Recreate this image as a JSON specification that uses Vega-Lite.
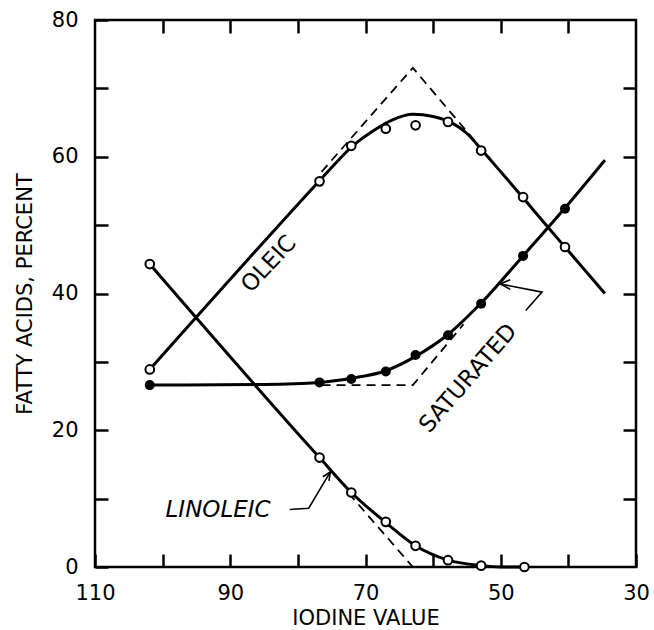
{
  "$schema": "https://vega.github.io/schema/vega-lite/v6.json",
  "width": 541,
  "height": 547,
  "autosize": {"type": "none"},
  "padding": {"left": 95, "top": 20, "right": 18, "bottom": 63},
  "config": {
    "view": {"stroke": "black", "strokeWidth": 2.5},
    "font": "DejaVu Sans",
    "axis": {
      "domain": false, "grid": false,
      "tickColor": "black", "tickWidth": 2.5, "tickSize": -13,
      "labelColor": "black", "labelFont": "DejaVu Sans", "labelFontSize": 21,
      "labelOverlap": false, "labelFlush": false,
      "titleFont": "DejaVu Sans", "titleFontSize": 21, "titleFontWeight": "normal", "titleColor": "black"
    }
  },
  "datasets": {
    "pts": [
      {"series": "Oleic", "kind": "open", "iv": 101.9, "pct": 28.9},
      {"series": "Oleic", "kind": "open", "iv": 76.8, "pct": 56.4},
      {"series": "Oleic", "kind": "open", "iv": 72.1, "pct": 61.6},
      {"series": "Oleic", "kind": "open", "iv": 67.0, "pct": 64.1},
      {"series": "Oleic", "kind": "open", "iv": 62.6, "pct": 64.6},
      {"series": "Oleic", "kind": "open", "iv": 57.8, "pct": 65.1},
      {"series": "Oleic", "kind": "open", "iv": 52.9, "pct": 60.9},
      {"series": "Oleic", "kind": "open", "iv": 46.7, "pct": 54.1},
      {"series": "Oleic", "kind": "open", "iv": 40.5, "pct": 46.8},
      {"series": "Saturated", "kind": "filled", "iv": 101.9, "pct": 26.6},
      {"series": "Saturated", "kind": "filled", "iv": 76.8, "pct": 27.0},
      {"series": "Saturated", "kind": "filled", "iv": 72.1, "pct": 27.5},
      {"series": "Saturated", "kind": "filled", "iv": 67.0, "pct": 28.6},
      {"series": "Saturated", "kind": "filled", "iv": 62.6, "pct": 31.0},
      {"series": "Saturated", "kind": "filled", "iv": 57.8, "pct": 33.9},
      {"series": "Saturated", "kind": "filled", "iv": 52.9, "pct": 38.5},
      {"series": "Saturated", "kind": "filled", "iv": 46.7, "pct": 45.5},
      {"series": "Saturated", "kind": "filled", "iv": 40.5, "pct": 52.4},
      {"series": "Linoleic", "kind": "open", "iv": 101.9, "pct": 44.3},
      {"series": "Linoleic", "kind": "open", "iv": 76.8, "pct": 16.0},
      {"series": "Linoleic", "kind": "open", "iv": 72.1, "pct": 10.9},
      {"series": "Linoleic", "kind": "open", "iv": 67.0, "pct": 6.6},
      {"series": "Linoleic", "kind": "open", "iv": 62.6, "pct": 3.1},
      {"series": "Linoleic", "kind": "open", "iv": 57.8, "pct": 1.0},
      {"series": "Linoleic", "kind": "open", "iv": 52.9, "pct": 0.2},
      {"series": "Linoleic", "kind": "open", "iv": 46.5, "pct": 0.0}
    ],
    "curves": [
      {"series": "Oleic", "iv": 101.9, "pct": 28.9},
      {"series": "Oleic", "iv": 76.8, "pct": 56.5},
      {"series": "Oleic", "iv": 74.0, "pct": 59.5},
      {"series": "Oleic", "iv": 72.0, "pct": 61.5},
      {"series": "Oleic", "iv": 69.0, "pct": 63.7},
      {"series": "Oleic", "iv": 66.0, "pct": 65.4},
      {"series": "Oleic", "iv": 63.0, "pct": 66.2},
      {"series": "Oleic", "iv": 60.0, "pct": 65.9},
      {"series": "Oleic", "iv": 57.8, "pct": 65.2},
      {"series": "Oleic", "iv": 55.0, "pct": 63.4},
      {"series": "Oleic", "iv": 52.9, "pct": 61.1},
      {"series": "Oleic", "iv": 50.0, "pct": 57.8},
      {"series": "Oleic", "iv": 46.7, "pct": 54.0},
      {"series": "Oleic", "iv": 43.2, "pct": 49.9},
      {"series": "Oleic", "iv": 40.5, "pct": 46.8},
      {"series": "Oleic", "iv": 34.6, "pct": 40.0},
      {"series": "Saturated", "iv": 101.9, "pct": 26.6},
      {"series": "Saturated", "iv": 85.0, "pct": 26.7},
      {"series": "Saturated", "iv": 76.8, "pct": 27.0},
      {"series": "Saturated", "iv": 72.1, "pct": 27.6},
      {"series": "Saturated", "iv": 67.0, "pct": 28.7},
      {"series": "Saturated", "iv": 62.6, "pct": 30.8},
      {"series": "Saturated", "iv": 57.8, "pct": 34.0},
      {"series": "Saturated", "iv": 52.9, "pct": 38.6},
      {"series": "Saturated", "iv": 46.7, "pct": 45.5},
      {"series": "Saturated", "iv": 40.5, "pct": 52.5},
      {"series": "Saturated", "iv": 34.6, "pct": 59.5},
      {"series": "Linoleic", "iv": 101.9, "pct": 44.3},
      {"series": "Linoleic", "iv": 76.8, "pct": 16.0},
      {"series": "Linoleic", "iv": 72.1, "pct": 10.9},
      {"series": "Linoleic", "iv": 67.0, "pct": 6.5},
      {"series": "Linoleic", "iv": 62.6, "pct": 3.1},
      {"series": "Linoleic", "iv": 57.8, "pct": 1.0},
      {"series": "Linoleic", "iv": 52.9, "pct": 0.2},
      {"series": "Linoleic", "iv": 50.0, "pct": 0.0},
      {"series": "Linoleic", "iv": 46.5, "pct": 0.0}
    ],
    "dashed": [
      {"series": "Oleic", "iv": 76.5, "pct": 57.8},
      {"series": "Oleic", "iv": 63.0, "pct": 73.0},
      {"series": "Oleic", "iv": 51.5, "pct": 59.6},
      {"series": "Saturated", "iv": 76.5, "pct": 26.6},
      {"series": "Saturated", "iv": 63.0, "pct": 26.6},
      {"series": "Saturated", "iv": 55.5, "pct": 35.5},
      {"series": "Linoleic", "iv": 72.5, "pct": 10.8},
      {"series": "Linoleic", "iv": 63.0, "pct": 0.0}
    ],
    "arrows": [
      {"seg": "shaftS", "ord": 1, "iv": 46.3, "pct": 37.5},
      {"seg": "shaftS", "ord": 2, "iv": 43.9, "pct": 40.2},
      {"seg": "shaftS", "ord": 3, "iv": 50.1, "pct": 41.4},
      {"seg": "headS", "ord": 1, "iv": 48.6, "pct": 42.0},
      {"seg": "headS", "ord": 2, "iv": 50.1, "pct": 41.4},
      {"seg": "headS", "ord": 3, "iv": 48.6, "pct": 40.6},
      {"seg": "shaftL", "ord": 1, "iv": 81.2, "pct": 8.4},
      {"seg": "shaftL", "ord": 2, "iv": 78.4, "pct": 8.6},
      {"seg": "shaftL", "ord": 3, "iv": 75.2, "pct": 13.9},
      {"seg": "headL", "ord": 1, "iv": 76.3, "pct": 13.2},
      {"seg": "headL", "ord": 2, "iv": 75.2, "pct": 13.9},
      {"seg": "headL", "ord": 3, "iv": 75.4, "pct": 12.6}
    ],
    "labels": [
      {"label": "OLEIC", "iv": 84.3, "pct": 44.3},
      {"label": "SATURATED", "iv": 54.8, "pct": 27.6},
      {"label": "LINOLEIC", "iv": 91.8, "pct": 8.3}
    ]
  },
  "layer": [
    {
      "data": {"name": "dashed"},
      "mark": {"type": "line", "color": "black", "strokeWidth": 1.8, "strokeDash": [9, 6]},
      "encoding": {
        "x": {"field": "iv", "type": "quantitative", "scale": {"domain": [30, 110], "reverse": true, "nice": false, "zero": false}, "axis": {"orient": "bottom", "values": [110, 100, 90, 80, 70, 60, 50, 40, 30], "labelExpr": "datum.value % 20 == 10 ? datum.label : ''", "title": "IODINE VALUE", "labelPadding": 28, "titlePadding": 4}},
        "y": {"field": "pct", "type": "quantitative", "scale": {"domain": [0, 80], "nice": false, "zero": false}, "axis": {"orient": "left", "values": [0, 10, 20, 30, 40, 50, 60, 70, 80], "labelExpr": "datum.value % 20 == 0 ? datum.label : ''", "title": "FATTY ACIDS, PERCENT", "labelPadding": 30, "titlePadding": 16}},
        "detail": {"field": "series"},
        "order": {"field": "iv", "sort": "descending"}
      }
    },
    {
      "data": {"name": "curves"},
      "mark": {"type": "line", "color": "black", "strokeWidth": 3, "interpolate": "monotone"},
      "encoding": {
        "x": {"field": "iv", "type": "quantitative", "axis": {"orient": "top", "values": [100, 90, 80, 70, 60, 50, 40], "labels": false, "title": null}},
        "y": {"field": "pct", "type": "quantitative", "axis": {"orient": "right", "values": [10, 20, 30, 40, 50, 60, 70], "labels": false, "title": null}},
        "detail": {"field": "series"},
        "order": {"field": "iv", "sort": "descending"}
      }
    },
    {
      "data": {"name": "arrows"},
      "mark": {"type": "line", "color": "black", "strokeWidth": 1.6},
      "encoding": {
        "x": {"field": "iv", "type": "quantitative", "axis": null},
        "y": {"field": "pct", "type": "quantitative", "axis": null},
        "detail": {"field": "seg"},
        "order": {"field": "ord"}
      }
    },
    {
      "data": {"name": "pts"},
      "transform": [{"filter": "datum.kind == 'open'"}],
      "mark": {"type": "point", "shape": "circle", "filled": true, "fill": "white", "stroke": "black", "strokeWidth": 2, "size": 75, "opacity": 1},
      "encoding": {
        "x": {"field": "iv", "type": "quantitative", "axis": null},
        "y": {"field": "pct", "type": "quantitative", "axis": null}
      }
    },
    {
      "data": {"name": "pts"},
      "transform": [{"filter": "datum.kind == 'filled'"}],
      "mark": {"type": "point", "shape": "circle", "filled": true, "color": "black", "size": 100, "opacity": 1},
      "encoding": {
        "x": {"field": "iv", "type": "quantitative", "axis": null},
        "y": {"field": "pct", "type": "quantitative", "axis": null}
      }
    },
    {
      "data": {"name": "labels"},
      "transform": [{"filter": "datum.label == 'OLEIC'"}],
      "mark": {"type": "text", "angle": -47, "fontSize": 23, "font": "DejaVu Sans", "color": "black", "align": "center", "baseline": "middle"},
      "encoding": {
        "x": {"field": "iv", "type": "quantitative", "axis": null},
        "y": {"field": "pct", "type": "quantitative", "axis": null},
        "text": {"field": "label"}
      }
    },
    {
      "data": {"name": "labels"},
      "transform": [{"filter": "datum.label == 'SATURATED'"}],
      "mark": {"type": "text", "angle": -49, "fontSize": 23, "font": "DejaVu Sans", "color": "black", "align": "center", "baseline": "middle"},
      "encoding": {
        "x": {"field": "iv", "type": "quantitative", "axis": null},
        "y": {"field": "pct", "type": "quantitative", "axis": null},
        "text": {"field": "label"}
      }
    },
    {
      "data": {"name": "labels"},
      "transform": [{"filter": "datum.label == 'LINOLEIC'"}],
      "mark": {"type": "text", "fontSize": 23, "fontStyle": "italic", "font": "DejaVu Sans", "color": "black", "align": "center", "baseline": "middle"},
      "encoding": {
        "x": {"field": "iv", "type": "quantitative", "axis": null},
        "y": {"field": "pct", "type": "quantitative", "axis": null},
        "text": {"field": "label"}
      }
    }
  ],
  "resolve": {"axis": {"x": "independent", "y": "independent"}}
}
